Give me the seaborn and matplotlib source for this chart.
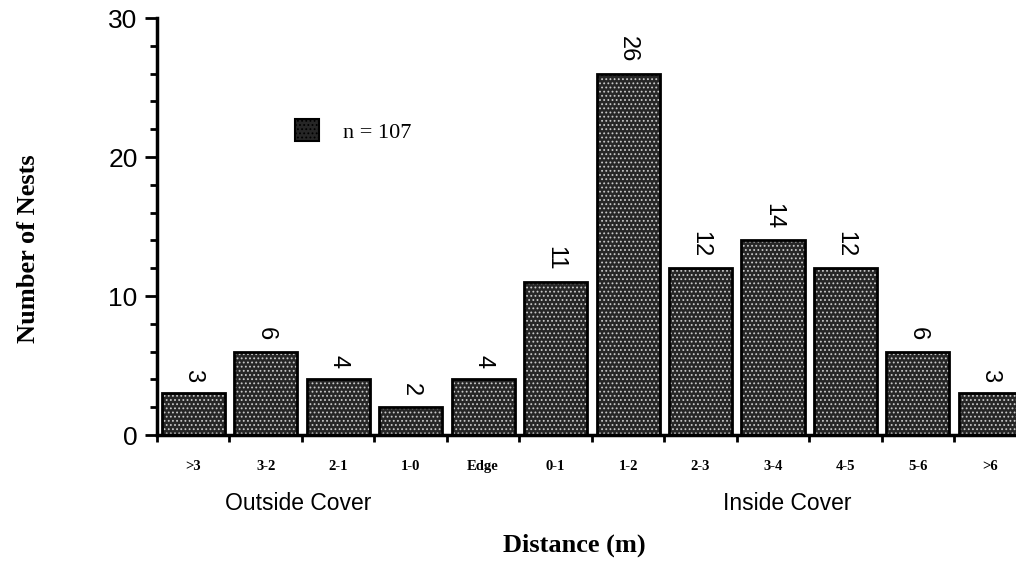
import matplotlib
matplotlib.use("Agg")
import matplotlib.pyplot as plt
import seaborn as sns
import pandas as pd
import numpy as np
from matplotlib.ticker import FixedLocator, MultipleLocator

categories = [">3", "3-2", "2-1", "1-0", "Edge", "0-1", "1-2", "2-3", "3-4", "4-5", "5-6", ">6"]
nests = [3, 6, 4, 2, 4, 11, 26, 12, 14, 12, 6, 3]
legend_label = "n = 107"
group_labels = ["Outside Cover", "Inside Cover"]
xlabel = "Distance (m)"
ylabel = "Number of Nests"

df = pd.DataFrame({"dist": categories, "n": nests})

sns.set_style("white")
plt.rcParams["font.family"] = ["Liberation Sans", "DejaVu Sans"]
plt.rcParams["hatch.linewidth"] = 0.8
for k in ["text.color", "axes.labelcolor", "xtick.color", "ytick.color"]:
    plt.rcParams[k] = "black"

fig = plt.figure(figsize=(10.16, 5.72), dpi=100)
ax = fig.add_axes([0.1545, 0.2395, 0.856, 0.729])

sns.barplot(data=df, x="dist", y="n", order=categories, color="#262626",
            edgecolor="#c8c8c8", linewidth=0, hatch="....", width=0.87,
            saturation=1, ax=ax, label=legend_label)
sns.barplot(data=df, x="dist", y="n", order=categories, fill=False,
            color="black", linewidth=2, width=0.87, ax=ax)

for i, v in enumerate(nests):
    ax.annotate(str(v), xy=(i, v), xytext=(0, 8), textcoords="offset points",
                ha="center", va="bottom", rotation=-90, fontsize=17,
                family=["Liberation Sans", "DejaVu Sans"])

ax.set_xlim(-0.5, len(categories) - 0.5)
ax.set_ylim(0, 30)
ax.set_xlabel("")
ax.set_ylabel("")

ax.set_xticks(range(len(categories)))
ax.set_xticklabels(categories, family="Liberation Serif", fontsize=10.5, fontweight="bold")
ax.tick_params(axis="x", which="major", length=0, pad=18)
ax.xaxis.set_minor_locator(FixedLocator(np.arange(-0.5, len(categories), 1.0)))
ax.tick_params(axis="x", which="minor", length=5, width=2, direction="out", bottom=True)

ax.set_yticks([0, 10, 20, 30])
ax.yaxis.set_minor_locator(MultipleLocator(2))
ax.tick_params(axis="y", which="major", length=9, width=2, direction="out", labelsize=19, pad=5, left=True)
ax.tick_params(axis="y", which="minor", length=5, width=2, direction="out", left=True)

for s in ["top", "right"]:
    ax.spines[s].set_visible(False)
for s in ["left", "bottom"]:
    ax.spines[s].set_linewidth(2.5)
    ax.spines[s].set_color("black")

# group labels under tick labels
ax.text(1.45, -0.165, group_labels[0], transform=ax.get_xaxis_transform(),
        ha="center", va="center", fontsize=16.5)
ax.text(8.2, -0.165, group_labels[1], transform=ax.get_xaxis_transform(),
        ha="center", va="center", fontsize=16.5)

fig.text(0.565, 0.046, xlabel, ha="center", va="center", family="Liberation Serif",
         fontsize=19, fontweight="bold")
fig.text(0.028, 0.565, ylabel, ha="center", va="center", rotation=90,
         family="Liberation Serif", fontsize=19, fontweight="bold")

leg = ax.legend(loc="center left", bbox_to_anchor=(0.279, 0.771),
                bbox_transform=fig.transFigure, frameon=False, borderpad=0,
                handlelength=1.1, handleheight=1.1, handletextpad=1.1,
                prop={"family": "Liberation Serif", "size": 16})
for h in leg.legend_handles:
    h.set_edgecolor("black")
    h.set_linewidth(1.5)

fig.savefig("out.png", dpi=100)
